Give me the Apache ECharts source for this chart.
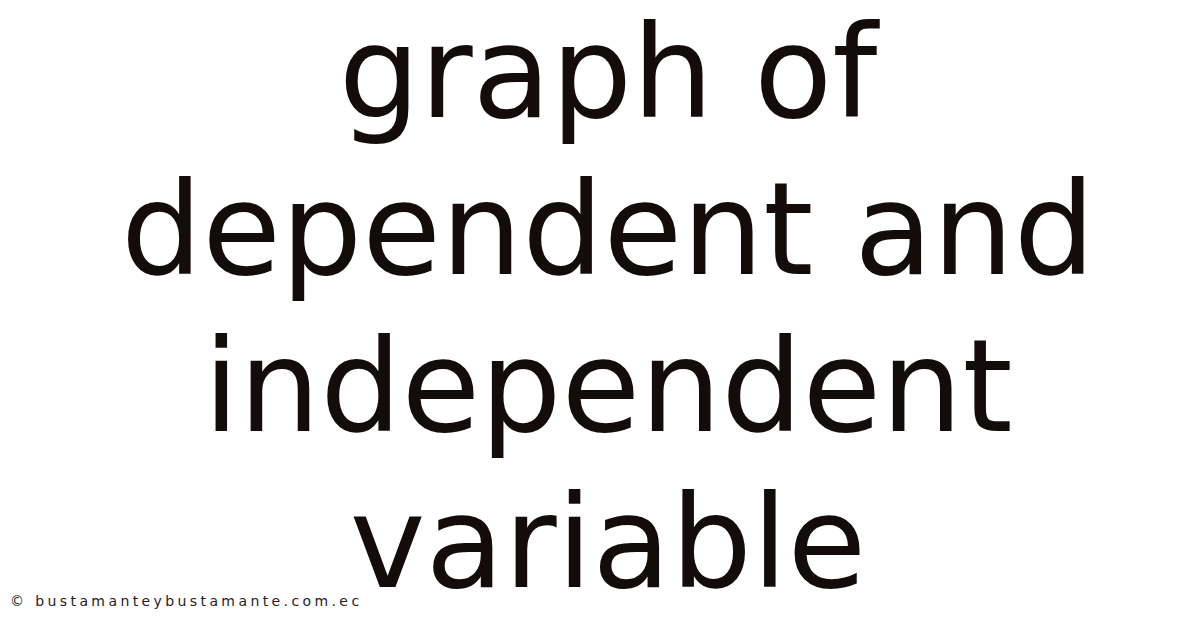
<!DOCTYPE html>
<html><head><meta charset="utf-8">
<script src="https://cdn.jsdelivr.net/npm/echarts@6/dist/echarts.min.js"></script>
<style>
html,body{margin:0;padding:0;background:#fff}
#c{width:1200px;height:628px}
#c svg text[style*="14px"]{letter-spacing:3.4px}
</style>
</head><body><div id="c"></div>
<script>
const titleLines = ["graph of", "dependent and", "independent", "variable"];
const lineCenters = [72, 229, 386, 542];
const footerText = "© bustamanteybustamante.com.ec";

const chart = echarts.init(document.getElementById('c'), null, {renderer: 'svg'});
const elements = titleLines.map((t, i) => ({
  type: 'text',
  x: 608,
  y: lineCenters[i],
  style: {
    text: t,
    fill: '#140b0b',
    font: '128px "DejaVu Sans"',
    align: 'center',
    verticalAlign: 'middle'
  }
}));
elements.push({
  type: 'text',
  x: 10,
  y: 601,
  style: {
    text: footerText,
    fill: '#1e1e1e',
    font: '14px "DejaVu Sans"',
    align: 'left',
    verticalAlign: 'middle'
  }
});
chart.setOption({
  backgroundColor: '#ffffff',
  animation: false,
  graphic: {elements: elements}
});
</script></body></html>
